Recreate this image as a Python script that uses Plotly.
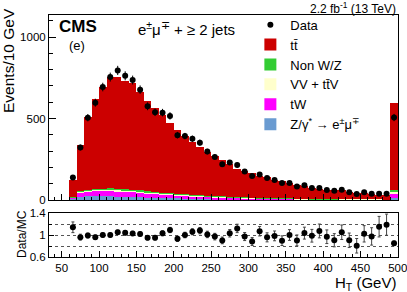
import numpy as np
import plotly.graph_objects as go

# ---- data ----
bin_center = [65, 75, 85, 95, 105, 115, 125, 135, 145, 155, 165, 175, 185, 195,
              205, 215, 225, 235, 245, 255, 265, 275, 285, 295, 305, 315, 325, 335,
              345, 355, 365, 375, 385, 395, 405, 415, 425, 435, 445, 455, 465, 475,
              485, 495]
data = [138, 322, 505, 597, 693, 754, 795, 762, 736, 677, 575, 538, 536, 516,
        398, 392, 376, 352, 297, 264, 220, 230, 215, 175, 148, 157, 135, 122,
        104, 104, 83, 91, 73, 73, 61, 57, 63, 47, 37, 47, 38, 38, 38, 506]
ttbar = [104, 279, 446, 552, 623, 682, 687, 666, 651, 605, 551, 515, 474, 431,
         389, 357, 323, 297, 267, 247, 222, 203, 174, 163, 153, 134, 129, 113,
         106, 94, 83, 80, 67, 62, 57, 57, 55, 48, 42, 42, 35, 29, 29, 533]
non_wz = [1, 4, 5, 6, 6, 7, 7, 6, 6, 6, 5, 5, 5, 4, 4, 4, 3, 3, 3, 3, 2, 2, 2, 2,
          2, 1, 1, 1, 1, 1, 1, 1, 1, 1, 1, 1, 0, 0, 0, 0, 0, 0, 0, 8]
vv_ttv = [2, 6, 7, 8, 8, 8, 8, 8, 8, 7, 7, 7, 6, 6, 6, 5, 5, 5, 4, 4, 4, 3, 3, 3,
          3, 2, 2, 2, 2, 2, 2, 1, 1, 1, 1, 1, 1, 1, 1, 1, 1, 1, 0, 12]
tw = [6, 26, 30, 33, 34, 35, 34, 33, 31, 29, 27, 25, 23, 21, 19, 17, 16, 14, 13,
      12, 11, 10, 9, 8, 7, 7, 6, 6, 5, 5, 4, 4, 4, 3, 3, 3, 3, 2, 2, 2, 2, 2, 2, 30]
dy_emu = [8, 20, 22, 23, 22, 22, 21, 20, 19, 17, 15, 14, 12, 11, 10, 9, 8, 7, 7,
          6, 5, 5, 4, 4, 3, 3, 3, 2, 2, 2, 2, 2, 1, 1, 1, 1, 1, 1, 1, 1, 1, 1, 1, 12]
x_ticks = [50, 100, 150, 200, 250, 300, 350, 400, 450, 500]
y_ticks_main = [0, 500, 1000]
ratio_ticks = [0.6, 1.0, 1.4]
ratio_ticktext = ["0.6", "1", "1.4"]

# ---- derived ----
d = np.array(data, dtype=float)
mc = (np.array(ttbar) + np.array(non_wz) + np.array(vv_ttv) + np.array(tw)
      + np.array(dy_emu)).astype(float)
ratio = d / mc
ratio_err = np.sqrt(d) / mc
data_err = np.sqrt(d)

FONT = "Liberation Sans, Arial, Helvetica, sans-serif"
X_RANGE = [33, 500.3]

fig = go.Figure()

stack = [
    (dy_emu, "Z/γ<sup>*</sup> → e<sup>±</sup>μ<sup>∓</sup>", "#6a9bd1", 6),
    (tw, "tW", "#ff00ff", 5),
    (vv_ttv, "VV + tt̄V", "#ffffcc", 4),
    (non_wz, "Non W/Z", "#33cc33", 3),
    (ttbar, "tt̄", "#cc0000", 2),
]
for vals, name, col, rank in stack:
    fig.add_trace(go.Bar(x=bin_center, y=vals, width=10, name=name,
                         marker=dict(color=col, line=dict(width=0)),
                         legendrank=rank, xaxis="x", yaxis="y"))

fig.add_trace(go.Scatter(x=bin_center, y=data, mode="markers", name="Data",
                         marker=dict(color="black", size=6),
                         error_y=dict(type="data", array=data_err, color="black",
                                      thickness=1, width=0),
                         legendrank=1, xaxis="x", yaxis="y"))

fig.add_trace(go.Scatter(x=bin_center, y=ratio, mode="markers", showlegend=False,
                         marker=dict(color="black", size=6),
                         error_y=dict(type="data", array=ratio_err, color="#444444",
                                      thickness=1, width=1.5),
                         xaxis="x2", yaxis="y2"))

axis_common = dict(showline=True, mirror=True, linecolor="black", linewidth=1,
                   zeroline=False, showgrid=False, automargin=False)

fig.update_layout(
    width=407, height=292,
    margin=dict(l=49, r=9, t=15, b=35, autoexpand=False),
    paper_bgcolor="white", plot_bgcolor="white",
    barmode="stack", bargap=0,
    font=dict(family=FONT, color="black", size=11),
    xaxis=dict(domain=[0, 1], range=X_RANGE, anchor="y",
               tickvals=x_ticks, showticklabels=False,
               ticks="inside", ticklen=6, tickcolor="black",
               minor=dict(ticks="inside", dtick=10, tick0=0, ticklen=3, tickcolor="black"),
               **axis_common),
    yaxis=dict(domain=[0.2355, 1], range=[0, 1135], anchor="x",
               tickvals=y_ticks_main, ticks="inside", ticklen=7, tickcolor="black",
               minor=dict(ticks="inside", dtick=100, tick0=0, ticklen=4, tickcolor="black"),
               tickfont=dict(size=11.5), **axis_common),
    xaxis2=dict(domain=[0, 1], range=X_RANGE, anchor="y2",
                tickvals=x_ticks, ticks="inside", ticklen=6, tickcolor="black",
                ticklabeloverflow="allow",
                minor=dict(ticks="inside", dtick=10, tick0=0, ticklen=3, tickcolor="black"),
                tickfont=dict(size=11.5), **axis_common),
    yaxis2=dict(domain=[0, 0.1818], range=[0.6, 1.4], anchor="x2",
                tickvals=ratio_ticks, ticktext=ratio_ticktext,
                ticks="inside", ticklen=5, tickcolor="black",
                tickfont=dict(size=11.5), automargin=False,
                minor=dict(dtick=0.2, tick0=0.6, ticks="inside", ticklen=3,
                           tickcolor="black", showgrid=True, gridcolor="#555555",
                           gridwidth=1, griddash="dot"),
                showline=True, mirror=True, linecolor="black", linewidth=1,
                zeroline=False, showgrid=True, gridcolor="#555555", gridwidth=1,
                griddash="dot"),
    legend=dict(x=0.577, y=1.022, xanchor="left", yanchor="top",
                bgcolor="rgba(0,0,0,0)", font=dict(size=13, family=FONT),
                itemwidth=30, traceorder="normal", tracegroupgap=0),
    showlegend=True,
)

ann = [
    dict(text="<b>CMS</b>", x=57, y=27, size=17, xanchor="left"),
    dict(text="(e)", x=67, y=45, size=13, xanchor="left"),
    dict(text="e<sup>±</sup>μ<sup>∓</sup> + ≥ 2 jets", x=136, y=28, size=15, xanchor="left"),
    dict(text="2.2 fb<sup>-1</sup> (13 TeV)", x=398, y=8, size=12, xanchor="right"),
    dict(text="H<sub>T</sub> (GeV)", x=398, y=283, size=15, xanchor="right"),
]
for a in ann:
    fig.add_annotation(text=a["text"], xref="paper", yref="paper",
                       x=(a["x"] - 49) / 349, y=(257 - a["y"]) / 242,
                       xanchor=a["xanchor"], yanchor="middle", showarrow=False,
                       font=dict(size=a["size"], family=FONT, color="black"))

fig.add_annotation(text="Events/10 GeV", xref="paper", yref="paper",
                   x=(8 - 49) / 349, y=(257 - 61) / 242, textangle=-90,
                   xanchor="center", yanchor="middle", showarrow=False,
                   font=dict(size=15.5, family=FONT, color="black"))
fig.add_annotation(text="Data/MC", xref="paper", yref="paper",
                   x=(22 - 49) / 349, y=(257 - 234) / 242, textangle=-90,
                   xanchor="center", yanchor="middle", showarrow=False,
                   font=dict(size=12, family=FONT, color="black"))

fig.write_html("out.html", config={"displayModeBar": False},
               post_script="document.body.style.margin='0';document.body.style.overflow='hidden';")
